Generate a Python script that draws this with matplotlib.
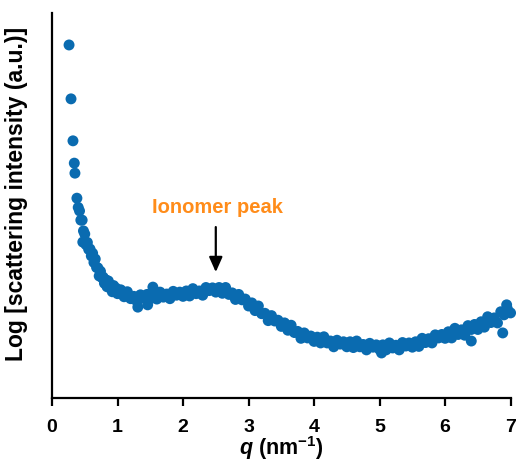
import matplotlib
matplotlib.use("Agg")
import matplotlib.pyplot as plt

plt.rcParams["font.family"] = ["Liberation Sans", "DejaVu Sans"]
plt.rcParams["font.weight"] = "bold"
plt.rcParams["mathtext.fontset"] = "custom"
plt.rcParams["mathtext.it"] = "Liberation Sans:italic:bold"
plt.rcParams["mathtext.rm"] = "Liberation Sans:bold"
plt.rcParams["mathtext.bf"] = "Liberation Sans:bold"

# low-q points, steep part
q_low = [0.26, 0.29, 0.32, 0.34, 0.35, 0.38, 0.40,
         0.42, 0.44, 0.46, 0.47, 0.48, 0.50, 0.52, 0.54, 0.56, 0.58, 0.60,
         0.62, 0.64, 0.66, 0.68, 0.70, 0.72, 0.74, 0.76, 0.78, 0.80,
         0.82, 0.84, 0.86, 0.88, 0.90, 0.92, 0.94, 0.96, 0.98, 1.00]
I_low = [9.17, 7.77, 6.68, 6.10, 5.84, 5.19, 4.95,
         4.86, 4.62, 4.62, 4.05, 4.34, 4.26, 3.98, 4.04, 3.86, 3.87, 3.69,
         3.76, 3.52, 3.61, 3.39, 3.38, 3.17, 3.29, 3.13, 3.14, 2.98,
         3.07, 2.89, 3.04, 2.87, 2.91, 2.76, 2.92, 2.81, 2.85, 2.71]

# rest of the curve
q_high = [1.05, 1.10, 1.15, 1.20, 1.25, 1.30, 1.35, 1.40, 1.45, 1.50,
          1.55, 1.60, 1.65, 1.70, 1.75, 1.80, 1.85, 1.90, 1.95, 2.00,
          2.05, 2.10, 2.15, 2.20, 2.25, 2.30, 2.35, 2.40, 2.45, 2.50,
          2.55, 2.60, 2.65, 2.70, 2.75, 2.80, 2.85, 2.90, 2.95, 3.00,
          3.05, 3.10, 3.15, 3.20, 3.25, 3.30, 3.35, 3.40, 3.45, 3.50,
          3.55, 3.60, 3.65, 3.70, 3.75, 3.80, 3.85, 3.90, 3.95, 4.00,
          4.05, 4.10, 4.15, 4.20, 4.25, 4.30, 4.35, 4.40, 4.45, 4.50,
          4.55, 4.60, 4.65, 4.70, 4.75, 4.80, 4.85, 4.90, 4.95, 5.00,
          5.05, 5.10, 5.15, 5.20, 5.25, 5.30, 5.35, 5.40, 5.45, 5.50,
          5.55, 5.60, 5.65, 5.70, 5.75, 5.80, 5.85, 5.90, 5.95, 6.00,
          6.05, 6.10, 6.15, 6.20, 6.25, 6.30, 6.35, 6.40, 6.45, 6.50,
          6.55, 6.60, 6.65, 6.70, 6.75, 6.80, 6.85, 6.90, 6.95, 7.00,
          1.31, 1.46, 1.54, 5.03, 6.40, 6.88, 6.94]
I_high = [2.81, 2.63, 2.76, 2.58, 2.64, 2.50, 2.68, 2.60, 2.69, 2.58,
          2.71, 2.57, 2.75, 2.62, 2.70, 2.58, 2.77, 2.67, 2.75, 2.64,
          2.78, 2.65, 2.84, 2.71, 2.78, 2.67, 2.87, 2.79, 2.86, 2.75,
          2.87, 2.72, 2.87, 2.69, 2.73, 2.56, 2.69, 2.55, 2.57, 2.39,
          2.47, 2.27, 2.39, 2.19, 2.20, 2.01, 2.14, 2.00, 2.02, 1.86,
          1.95, 1.76, 1.89, 1.70, 1.73, 1.55, 1.69, 1.56, 1.61, 1.47,
          1.58, 1.43, 1.59, 1.43, 1.48, 1.33, 1.50, 1.40, 1.46, 1.33,
          1.46, 1.31, 1.48, 1.33, 1.39, 1.25, 1.42, 1.32, 1.38, 1.26,
          1.38, 1.25, 1.43, 1.30, 1.37, 1.25, 1.44, 1.35, 1.43, 1.32,
          1.46, 1.34, 1.55, 1.44, 1.54, 1.43, 1.64, 1.56, 1.65, 1.55,
          1.72, 1.56, 1.81, 1.65, 1.77, 1.63, 1.88, 1.78, 1.91, 1.78,
          1.98, 1.84, 2.11, 1.96, 2.08, 1.95, 2.24, 2.16, 2.32, 2.21,
          2.36, 2.42, 2.88, 1.17, 1.48, 1.69, 2.42]

q = q_low + q_high
I = I_low + I_high

peak_q = 2.50
peak_label = "Ionomer peak"

fig = plt.figure(figsize=(5.16, 4.63), dpi=100)
ax = fig.add_axes([0.1008, 0.1404, 0.8887, 0.8315])

ax.scatter(q, I, s=62, color="#0a6bb0", edgecolors="none", clip_on=False, zorder=3)

ax.annotate("", xy=(peak_q, 3.27), xytext=(peak_q, 4.44),
            arrowprops=dict(arrowstyle="-|>,head_width=0.4,head_length=0.9",
                            color="black", lw=1.6, shrinkA=0, shrinkB=0))
ax.text(peak_q + 0.03, 4.95, peak_label, color="#ff8c1a", fontsize=14.5,
        fontweight="bold", ha="center", va="center")

ax.set_xlim(0, 7)
ax.set_ylim(0, 10)
ax.set_xticks([0, 1, 2, 3, 4, 5, 6, 7])
ax.set_yticks([])
ax.tick_params(axis="x", direction="out", length=6, width=1.6, pad=9,
               labelsize=14)
for lab in ax.get_xticklabels():
    lab.set_fontweight("bold")
for s in ["top", "right"]:
    ax.spines[s].set_visible(False)
for s in ["left", "bottom"]:
    ax.spines[s].set_linewidth(1.6)

ax.set_xlabel(r"$q$ (nm$^{-1}$)", fontsize=15.5, fontweight="bold", labelpad=-1)
ax.set_ylabel("Log [scattering intensity (a.u.)]", fontsize=16.5,
              fontweight="bold")
ax.yaxis.set_label_coords(-0.052, 0.531)

fig.savefig("out.png", dpi=100)
